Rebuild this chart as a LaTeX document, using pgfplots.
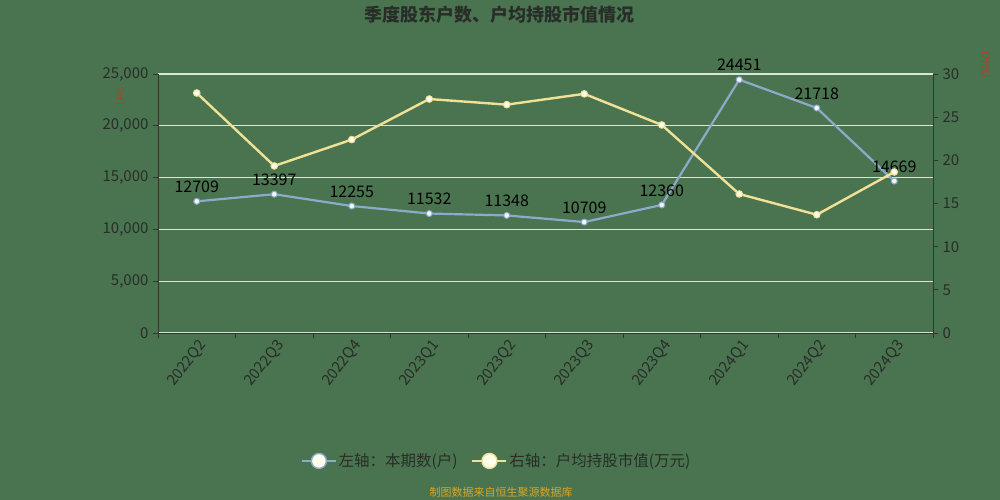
\documentclass[border=0pt]{standalone}
\usepackage{pgfplots}
\pgfplotsset{compat=1.18}
\usepackage{fontspec}
\setmainfont{Noto Sans CJK SC}
\definecolor{bg}{RGB}{74,116,80}
\definecolor{bluel}{RGB}{140,170,202}
\definecolor{yell}{RGB}{240,225,150}
\definecolor{gridc}{RGB}{215,232,210}
\definecolor{axc}{RGB}{45,55,45}
\definecolor{txt}{RGB}{40,45,40}
\definecolor{redl}{RGB}{205,50,35}
\definecolor{srcc}{RGB}{215,165,40}
\begin{document}
\begin{tikzpicture}
\fill[bg] (0pt,0pt) rectangle (1000pt,500pt);
\node[font=\fontsize{18}{20}\selectfont\bfseries, text=txt] at (499pt,485pt) {季度股东户数、户均持股市值情况};
\node[font=\fontsize{10}{11}\selectfont, text=redl, rotate=90] at (121pt,403pt) {(户)};
\node[font=\fontsize{10}{11}\selectfont, text=redl, rotate=-90] at (985pt,435pt) {(万元)};
\node[font=\fontsize{11}{12}\selectfont, text=srcc] at (501pt,8pt) {制图数据来自恒生聚源数据库};
\begin{axis}[
  name=a1,
  at={(158pt,167pt)}, anchor=south west, scale only axis,
  width=775pt, height=259pt,
  xmin=-0.5, xmax=9.5, ymin=0, ymax=25000,
  axis x line*=bottom, axis y line*=left,
  axis line style={axc, line width=0.9pt},
  xtick={0,...,9},
  xticklabels={2022Q2,2022Q3,2022Q4,2023Q1,2023Q2,2023Q3,2023Q4,2024Q1,2024Q2,2024Q3},
  major x tick style={draw=none},
  minor xtick={-0.5,0.5,...,9.5},
  minor x tick style={axc, line width=0.8pt},
  minor tick length=5pt,
  tick align=outside,
  ytick={0,5000,10000,15000,20000,25000},
  ytick style={axc, line width=0.8pt},
  major tick length=5pt,
  ymajorgrids, grid style={gridc, line width=1.1pt},
  /pgf/number format/assume math mode=true,
  /pgf/number format/1000 sep={,},
  scaled y ticks=false,
  tick label style={font=\fontsize{15}{17}\selectfont, text=txt},
  xticklabel style={rotate=52, anchor=east, xshift=4pt, yshift=-8pt},
  yticklabel style={xshift=-1pt},
  legend columns=2,
  legend style={at={(0.437,-0.494)}, anchor=center, draw=none, fill=none,
    font=\fontsize{15.5}{17}\selectfont, text=txt,
    /tikz/every even column/.append style={column sep=12pt}},
  legend image code/.code={
    \draw[#1, line width=1.6pt, mark=none] (-2pt,0pt) -- (32pt,0pt);
    \draw[#1, fill=white!92!yellow, line width=1.4pt, mark=none] (15pt,0pt) circle (7.5pt);
  },
  clip=false,
]
\addplot[bluel, line width=2.2pt, mark=*, mark size=3pt, mark options={fill=white!90!bluel, draw=bluel, line width=1pt},
  nodes near coords, point meta=explicit symbolic,
  every node near coord/.append style={font=\fontsize{16}{18}\selectfont, text=black, anchor=south, yshift=7pt, inner sep=1pt}]
  table[meta=v] {
  x y v
  0 12709 12709
  1 13397 13397
  2 12255 12255
  3 11532 11532
  4 11348 11348
  5 10709 10709
  6 12360 12360
  7 24451 24451
  8 21718 21718
  9 14669 14669
  };
\addlegendentry{左轴：本期数(户)}
\addlegendimage{yell, line width=2pt}
\addlegendentry{右轴：户均持股市值(万元)}
\end{axis}
\begin{axis}[
  at={(158pt,167pt)}, anchor=south west, scale only axis,
  width=775pt, height=259pt,
  xmin=-0.5, xmax=9.5, ymin=0, ymax=30,
  axis x line*=bottom, axis y line*=right,
  x axis line style={draw=none},
  y axis line style={axc, line width=0.9pt},
  xtick=\empty,
  ytick={0,5,10,15,20,25,30},
  ytick style={axc, line width=0.8pt},
  tick align=outside, major tick length=5pt,
  /pgf/number format/assume math mode=true,
  tick label style={font=\fontsize{15}{17}\selectfont, text=txt},
  yticklabel style={xshift=1pt},
  clip=false,
]
\addplot[yell, line width=2.4pt, mark=*, mark size=3.3pt, mark options={fill=white!85!yell, draw=yell, line width=1pt}]
  coordinates {(0,27.8) (1,19.35) (2,22.4) (3,27.1) (4,26.45) (5,27.7) (6,24.1) (7,16.1) (8,13.7) (9,18.65)};
\end{axis}
\pgfresetboundingbox
\useasboundingbox (0pt,0pt) rectangle (1000pt,500pt);
\end{tikzpicture}
\end{document}
